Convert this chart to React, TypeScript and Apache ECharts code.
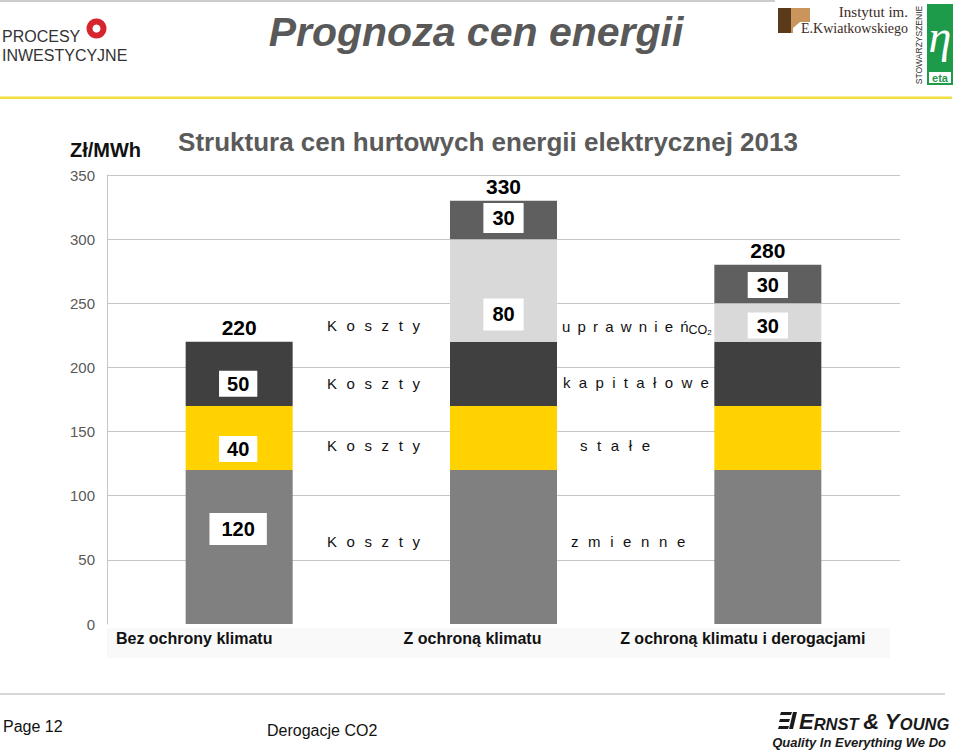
import React, { useEffect, useRef } from "react";
import * as echarts from "echarts";

// ---------- data ----------
const categories = ["Bez ochrony klimatu", "Z ochroną klimatu", "Z ochroną klimatu i derogacjami"];
const kosztyZmienne = [120, 120, 120];
const kosztyStale = [50, 50, 50];
const kosztyKapitalowe = [50, 50, 50];
const kosztyUprawnien = [0, 80, 30];
const kosztyPozostale = [0, 30, 30];
const sumy = [220, 330, 280];

const zmienneLabels = ["120", "", ""];
const staleLabels = ["40", "", ""];
const kapitaloweLabels = ["50", "", ""];
const uprawnienLabels = ["", "80", "30"];
const pozostaleLabels = ["", "30", "30"];

const yMin = 0;
const yMax = 350;
const yStep = 50;

const rowWordLeft = "Koszty";
const rowWordsRight = ["uprawnień", "kapitałowe", "stałe", "zmienne"];

// ---------- styles ----------
const SANS = 'Arial, "Liberation Sans", Helvetica, sans-serif';
const SERIF = '"Liberation Serif", "DejaVu Serif", serif';
const COLORS = {
  zmienne: "#808080",
  stale: "#FFD200",
  kapitalowe: "#404040",
  uprawnien: "#D9D9D9",
  pozostale: "#5F5F5F",
};

const labelLayout = {
  zmienne: { offsets: [[-1, -18], [0, 0], [0, 0]], paddings: [[5, 12], [4, 9], [4, 9]] },
  stale: { offsets: [[-1, 11], [0, 0], [0, 0]], paddings: [[2, 8], [4, 9], [4, 9]] },
  kapitalowe: { offsets: [[-1, 10], [0, 0], [0, 0]], paddings: [[2, 8], [4, 9], [4, 9]] },
  uprawnien: { offsets: [[0, 0], [0, 24], [0, 3]], paddings: [[4, 9], [5, 9], [2, 9]] },
  pozostale: { offsets: [[0, 0], [0, -2], [0, 1]], paddings: [[4, 9], [4, 9], [2, 9]] },
};

const spaced = (s: string, gap: string) => s.split("").join(gap);

function segment(name: string, values: number[], labels: string[], color: string, layout: any) {
  return {
    name,
    type: "bar",
    stack: "total",
    barWidth: 107,
    barGap: "-100%",
    itemStyle: { color },
    data: values.map((v, i) => ({
      value: v,
      label: labels[i]
        ? {
            show: true,
            position: "inside",
            formatter: labels[i],
            offset: layout.offsets[i],
            padding: layout.paddings[i],
            backgroundColor: "#ffffff",
            color: "#000000",
            fontFamily: SANS,
            fontWeight: "bold",
            fontSize: 20,
            lineHeight: 22,
          }
        : { show: false },
    })),
  };
}

export default function App() {
  const ref = useRef<HTMLDivElement>(null);

  useEffect(() => {
    if (!ref.current) return;
    const chart = echarts.init(ref.current, null, { renderer: "svg" });

    const gridColors = ["rgba(0,0,0,0)", "#C6C6C6", "#C6C6C6", "#C6C6C6", "#C6C6C6", "#C6C6C6", "#C6C6C6", "#C6C6C6"];

    const rowText = (text: string, x: number, y: number) => ({
      type: "text",
      x,
      y,
      style: { text, fill: "#111", font: `15px ${SANS}`, textAlign: "left", textVerticalAlign: "middle" },
    });

    const option: any = {
      animation: false,
      backgroundColor: "#ffffff",
      grid: { left: 107, right: 60, top: 175, bottom: 126, containLabel: false },
      xAxis: {
        type: "category",
        data: categories,
        axisLine: { show: false },
        axisTick: { show: false },
        axisLabel: {
          interval: 0,
          margin: 6,
          formatter: (v: string, i: number) => `{c${i}|${v}}`,
          rich: {
            c0: { padding: [0, 90, 0, 0], fontSize: 16, fontWeight: "bold", color: "#111", fontFamily: SANS },
            c1: { padding: [0, 62, 0, 0], fontSize: 16, fontWeight: "bold", color: "#111", fontFamily: SANS },
            c2: { padding: [0, 50, 0, 0], fontSize: 16, fontWeight: "bold", color: "#111", fontFamily: SANS },
          },
        },
      },
      yAxis: {
        type: "value",
        min: yMin,
        max: yMax,
        interval: yStep,
        axisLine: { show: true, lineStyle: { color: "#C6C6C6", width: 1 } },
        axisTick: { show: false },
        axisLabel: { color: "#595959", fontSize: 15, margin: 12, fontFamily: SANS },
        splitLine: { show: true, lineStyle: { color: gridColors, width: 1 } },
      },
      series: [
        segment("Koszty zmienne", kosztyZmienne, zmienneLabels, COLORS.zmienne, labelLayout.zmienne),
        segment("Koszty stałe", kosztyStale, staleLabels, COLORS.stale, labelLayout.stale),
        segment("Koszty kapitałowe", kosztyKapitalowe, kapitaloweLabels, COLORS.kapitalowe, labelLayout.kapitalowe),
        segment("Koszty uprawnień CO2", kosztyUprawnien, uprawnienLabels, COLORS.uprawnien, labelLayout.uprawnien),
        segment("Pozostałe", kosztyPozostale, pozostaleLabels, COLORS.pozostale, labelLayout.pozostale),
        {
          name: "Suma",
          type: "bar",
          barWidth: 107,
          barGap: "-100%",
          silent: true,
          data: sumy,
          itemStyle: { color: "rgba(0,0,0,0)" },
          label: {
            show: true,
            position: "top",
            distance: 4,
            color: "#000",
            fontSize: 21,
            fontWeight: "bold",
            fontFamily: SANS,
          },
        },
      ],
      graphic: [
        // light band under category labels
        { type: "rect", z: -1, shape: { x: 107, y: 628, width: 783, height: 30 }, style: { fill: "#F9F9F9" } },
        // header lines
        { type: "line", shape: { x1: 0, y1: 1, x2: 775, y2: 1 }, style: { stroke: "#9A9A9A", lineWidth: 1 } },
        { type: "rect", shape: { x: 0, y: 96.5, width: 952, height: 2.5 }, style: { fill: "#F2DF3F" } },
        { type: "line", shape: { x1: 0, y1: 694, x2: 945, y2: 694 }, style: { stroke: "#C8C8C8", lineWidth: 1.5 } },
        // slide title
        {
          type: "text",
          x: 476,
          y: 32,
          style: {
            text: "Prognoza cen energii",
            fill: "#595959",
            font: `italic bold 41px ${SANS}`,
            textAlign: "center",
            textVerticalAlign: "middle",
          },
        },
        // PROCESY INWESTYCYJNE logo
        { type: "text", x: 2, y: 36, style: { text: "PROCESY", fill: "#333", font: `16px ${SANS}`, textAlign: "left", textVerticalAlign: "middle" } },
        { type: "text", x: 2, y: 55, style: { text: "INWESTYCYJNE", fill: "#333", font: `16px ${SANS}`, textAlign: "left", textVerticalAlign: "middle" } },
        { type: "ring", shape: { cx: 96.5, cy: 28.5, r: 10, r0: 4 }, style: { fill: "#D7252D" } },
        // Instytut logo
        { type: "rect", shape: { x: 778, y: 8, width: 13, height: 25 }, style: { fill: "#5B3A1A" } },
        {
          type: "polygon",
          shape: { points: [[791, 8], [810, 8], [810, 22], [800, 22], [793, 28], [793, 33], [791, 33]] },
          style: { fill: "#C9955C" },
        },
        { type: "text", x: 908, y: 12, style: { text: "Instytut im.", fill: "#3B2A1E", font: `15px ${SERIF}`, textAlign: "right", textVerticalAlign: "middle" } },
        { type: "text", x: 908, y: 28.5, style: { text: "E.Kwiatkowskiego", fill: "#3B2A1E", font: `14px ${SERIF}`, textAlign: "right", textVerticalAlign: "middle" } },
        // Stowarzyszenie eta logo
        { type: "rect", shape: { x: 927, y: 4, width: 26, height: 81 }, style: { fill: "#1E9A4B" } },
        { type: "text", x: 940, y: 36, style: { text: "η", fill: "#fff", font: `italic 46px ${SERIF}`, textAlign: "center", textVerticalAlign: "middle" } },
        { type: "rect", shape: { x: 929, y: 72, width: 22, height: 11 }, style: { fill: "#fff" } },
        { type: "text", x: 940, y: 78, style: { text: "eta", fill: "#1E9A4B", font: `bold 11px ${SANS}`, textAlign: "center", textVerticalAlign: "middle" } },
        {
          type: "text",
          x: 919,
          y: 45,
          rotation: Math.PI / 2,
          style: { text: "STOWARZYSZENIE", fill: "#333", font: `8.5px ${SANS}`, textAlign: "center", textVerticalAlign: "middle" },
        },
        // chart header texts
        { type: "text", x: 70, y: 150, style: { text: "Zł/MWh", fill: "#111", font: `bold 20px ${SANS}`, textAlign: "left", textVerticalAlign: "middle" } },
        {
          type: "text",
          x: 488,
          y: 142,
          style: {
            text: "Struktura cen hurtowych energii elektrycznej 2013",
            fill: "#5A5A5A",
            font: `bold 26px ${SANS}`,
            textAlign: "center",
            textVerticalAlign: "middle",
          },
        },
        // row annotations
        rowText(spaced(rowWordLeft, " \u00a0\u200a"), 327, 325),
        rowText(spaced(rowWordLeft, " \u00a0\u200a"), 327, 383),
        rowText(spaced(rowWordLeft, " \u00a0\u200a"), 327, 445),
        rowText(spaced(rowWordLeft, " \u00a0\u200a"), 327, 541),
        {
          type: "text",
          x: 562,
          y: 326,
          style: {
            text: `{a|${spaced(rowWordsRight[0], "\u00a0\u2009")}}{b|CO}{c|2}`,
            textAlign: "left",
            textVerticalAlign: "middle",
            rich: {
              a: { fontSize: 15, fontFamily: SANS, fill: "#111", lineHeight: 20, verticalAlign: "middle" },
              b: { fontSize: 12.5, fontFamily: SANS, fill: "#111", lineHeight: 17, verticalAlign: "bottom" },
              c: { fontSize: 8, fontFamily: SANS, fill: "#111", lineHeight: 8, verticalAlign: "bottom" },
            },
          },
        },
        rowText(spaced(rowWordsRight[1], " \u00a0"), 563, 382),
        rowText(spaced(rowWordsRight[2], " \u00a0\u200a"), 580, 445),
        rowText(spaced(rowWordsRight[3], " \u00a0\u200a"), 571, 541),
        // footer
        { type: "text", x: 3, y: 726, style: { text: "Page 12", fill: "#111", font: `16px ${SANS}`, textAlign: "left", textVerticalAlign: "middle" } },
        { type: "text", x: 267, y: 730, style: { text: "Derogacje CO2", fill: "#111", font: `16px ${SANS}`, textAlign: "left", textVerticalAlign: "middle" } },
        // Ernst & Young logo
        { type: "polygon", shape: { points: [[781, 712], [792, 712], [791, 715], [780, 715]] }, style: { fill: "#1A1A1A" } },
        { type: "polygon", shape: { points: [[780, 719], [790, 719], [789, 722], [779, 722]] }, style: { fill: "#1A1A1A" } },
        { type: "polygon", shape: { points: [[779, 726], [789, 726], [788, 729], [778, 729]] }, style: { fill: "#1A1A1A" } },
        { type: "polygon", shape: { points: [[793, 712], [797, 712], [793, 729], [789, 729]] }, style: { fill: "#1A1A1A" } },
        {
          type: "text",
          x: 799,
          y: 721,
          style: {
            text: "{b|E}{s|RNST }{b|& Y}{s|OUNG}",
            textAlign: "left",
            textVerticalAlign: "middle",
            rich: {
              b: { fontSize: 22, fontStyle: "italic", fontWeight: "bold", fontFamily: SANS, fill: "#1A1A1A", verticalAlign: "bottom" },
              s: { fontSize: 16.5, fontStyle: "italic", fontWeight: "bold", fontFamily: SANS, fill: "#1A1A1A", verticalAlign: "bottom" },
            },
          },
        },
        {
          type: "text",
          x: 946,
          y: 742,
          style: {
            text: "Quality In Everything We Do",
            fill: "#1A1A1A",
            font: `italic bold 13px "Liberation Sans Narrow", "Arial Narrow", ${SANS}`,
            textAlign: "right",
            textVerticalAlign: "middle",
          },
        },
      ],
    };

    chart.setOption(option);
    return () => chart.dispose();
  }, []);

  return <div ref={ref} style={{ position: "absolute", left: 0, top: 0, width: 960, height: 750 }} />;
}
